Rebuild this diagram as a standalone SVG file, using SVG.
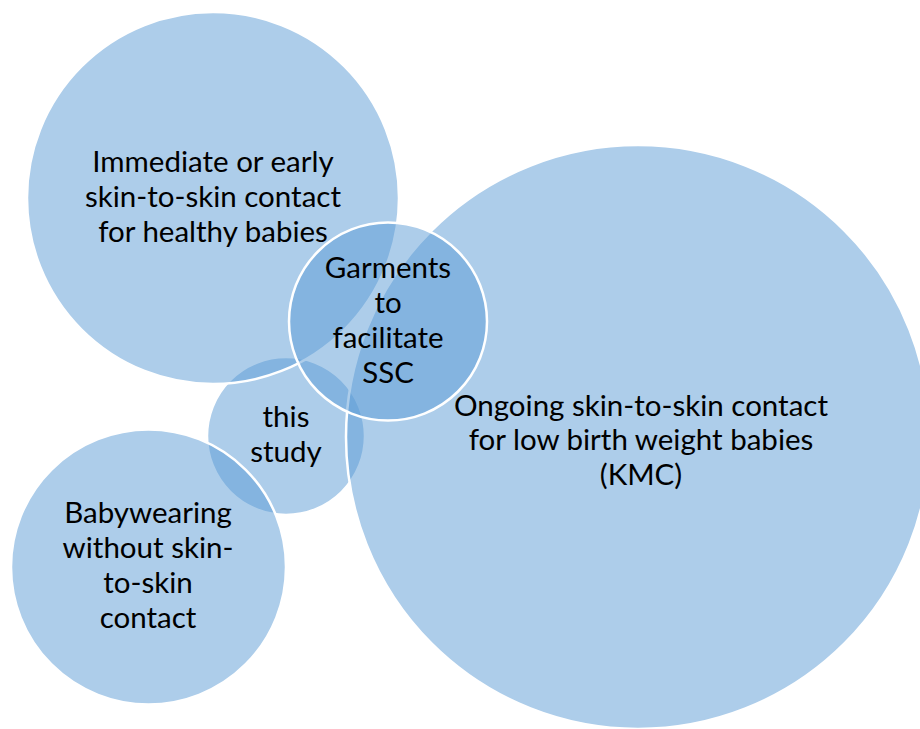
<svg xmlns="http://www.w3.org/2000/svg" width="920" height="729" viewBox="0 0 920 729">
<style>
.c{fill:#5B9BD5;fill-opacity:0.5;stroke:#FFFFFF;stroke-width:2.5}
.t{font-family:Lato,"Liberation Sans",sans-serif;font-size:29.5px;fill:#000000;text-anchor:middle}
</style>
<rect width="920" height="729" fill="#FFFFFF"/>
<g id="this-study">
<circle class="c" cx="286" cy="436" r="79"/>
</g>
<g id="immediate">
<circle class="c" cx="213" cy="198" r="186"/>
</g>
<g id="ongoing">
<circle class="c" cx="638" cy="437" r="292"/>
</g>
<g id="babywearing">
<circle class="c" cx="148.5" cy="567" r="137.5"/>
</g>
<g id="garments">
<circle class="c" cx="388" cy="321.5" r="99"/>
</g>
<g id="connectors"></g>
<g id="labels">
<text class="t" x="213" y="172">Immediate or early</text>
<text class="t" x="213" y="207">skin-to-skin contact</text>
<text class="t" x="213" y="242">for healthy babies</text>
<text class="t" x="388" y="278">Garments</text>
<text class="t" x="388" y="313">to</text>
<text class="t" x="388" y="348">facilitate</text>
<text class="t" x="388" y="383">SSC</text>
<text class="t" x="286" y="427">this</text>
<text class="t" x="286" y="462">study</text>
<text class="t" x="641" y="416">Ongoing skin-to-skin contact</text>
<text class="t" x="641" y="450">for low birth weight babies</text>
<text class="t" x="641" y="485">(KMC)</text>
<text class="t" x="148" y="523">Babywearing</text>
<text class="t" x="148" y="558">without skin-</text>
<text class="t" x="148" y="593">to-skin</text>
<text class="t" x="148" y="628">contact</text>
</g>
</svg>
